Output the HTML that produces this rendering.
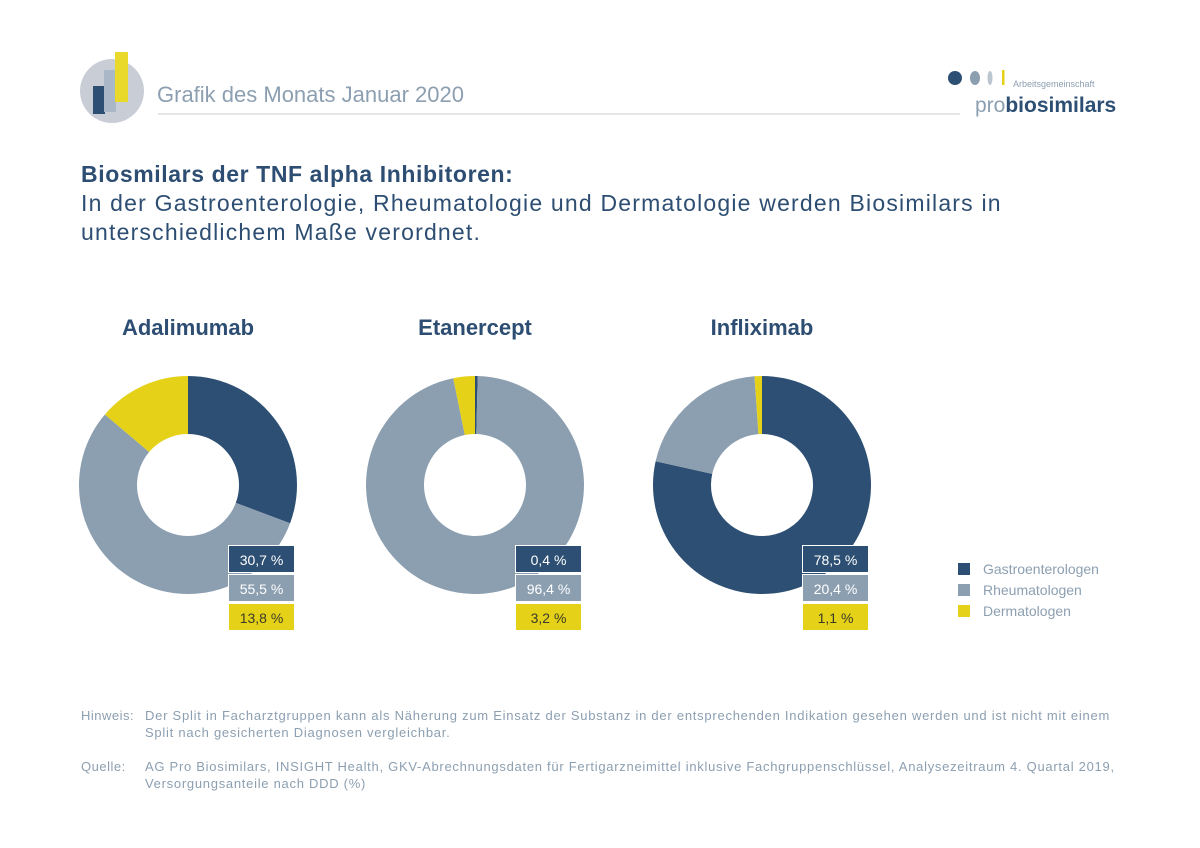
<!DOCTYPE html>
<html><head><meta charset="utf-8">
<style>
body{margin:0;width:1200px;height:848px;background:#fff;font-family:"Liberation Sans",sans-serif;position:relative;overflow:hidden}
.a{position:absolute;white-space:nowrap}
</style></head><body>
<svg class="a" style="left:0;top:0" width="1200" height="848">
 <g>
  <circle cx="112" cy="91" r="32" fill="#c9ced6"/>
  <rect x="93" y="86" width="12" height="28" fill="#2c4f73"/>
  <rect x="104" y="70" width="12" height="42" fill="#aab7c6"/>
  <rect x="115" y="52" width="13" height="50" fill="#e8d92a"/>
 </g>
 <line x1="158" y1="114" x2="960" y2="114" stroke="#c8ccd2" stroke-width="1"/>
 <g>
  <circle cx="955" cy="78" r="7" fill="#2c4f73"/>
  <ellipse cx="975" cy="78" rx="5" ry="7" fill="#8c9fb1"/>
  <ellipse cx="990" cy="78" rx="2.5" ry="7" fill="#bcc6d1"/>
  <rect x="1002" y="70" width="2.5" height="15" fill="#e5d218"/>
 </g>
 <g id="donuts"></g>
</svg>
<div class="a" style="left:157px;top:82px;font-size:22px;color:#8c9fb1">Grafik des Monats Januar 2020</div>
<div class="a" style="left:1013px;top:79px;font-size:9px;color:#8c9fb1">Arbeitsgemeinschaft</div>
<div class="a" style="left:975px;top:94px;font-size:21px;color:#8c9fb1">pro<b style="color:#2c4f73">biosimilars</b></div>
<div class="a" style="left:81px;top:160px;font-size:23px;line-height:29px;color:#2d4e72;letter-spacing:1.2px"><b style="letter-spacing:0.6px">Biosmilars der TNF alpha Inhibitoren:</b><br>In der Gastroenterologie, Rheumatologie und Dermatologie werden Biosimilars in<br>unterschiedlichem Maße verordnet.</div>
<div id="labels"></div>
<div class="a" style="left:81px;top:707px;font-size:13px;line-height:17px;color:#8c9fb1;letter-spacing:0.5px">Hinweis:</div>
<div class="a" style="left:145px;top:707px;font-size:13px;line-height:17px;color:#8c9fb1;letter-spacing:0.75px">Der Split in Facharztgruppen kann als Näherung zum Einsatz der Substanz in der entsprechenden Indikation gesehen werden und ist nicht mit einem<br>Split nach gesicherten Diagnosen vergleichbar.</div>
<div class="a" style="left:81px;top:758px;font-size:13px;line-height:17px;color:#8c9fb1;letter-spacing:0.5px">Quelle:</div>
<div class="a" style="left:145px;top:758px;font-size:13px;line-height:17px;color:#8c9fb1;letter-spacing:0.72px">AG Pro Biosimilars, INSIGHT Health, GKV-Abrechnungsdaten für Fertigarzneimittel inklusive Fachgruppenschlüssel, Analysezeitraum 4. Quartal 2019,<br>Versorgungsanteile nach DDD (%)</div>
<script>
const drugs=["Adalimumab","Etanercept","Infliximab"];
const groups=["Gastroenterologen","Rheumatologen","Dermatologen"];
const gastro=[30.7,0.4,78.5];
const rheuma=[55.5,96.4,20.4];
const derma=[13.8,3.2,1.1];
const colors=["#2c4f73","#8c9fb1","#e5d218"];
const txtColors=["#fff","#fff","#3a3a2a"];
const NS="http://www.w3.org/2000/svg";
const g=document.getElementById("donuts"),lab=document.getElementById("labels");
const cx0=188,dx=287,cy=485,R=109,r=51;
function pt(a,rad,cx){return [cx+rad*Math.sin(a),cy-rad*Math.cos(a)];}
drugs.forEach((d,i)=>{
 const cx=cx0+i*dx;const vals=[gastro[i],rheuma[i],derma[i]];
 const tot=vals.reduce((s,v)=>s+v,0);let a0=0;
 vals.forEach((v,k)=>{
  const a1=a0+v/tot*2*Math.PI;const big=(a1-a0)>Math.PI?1:0;
  const [x1,y1]=pt(a0,R,cx),[x2,y2]=pt(a1,R,cx),[x3,y3]=pt(a1,r,cx),[x4,y4]=pt(a0,r,cx);
  const p=document.createElementNS(NS,"path");
  p.setAttribute("d",`M${x1},${y1}A${R},${R} 0 ${big} 1 ${x2},${y2}L${x3},${y3}A${r},${r} 0 ${big} 0 ${x4},${y4}Z`);
  p.setAttribute("fill",colors[k]);
  
  
  g.appendChild(p);a0=a1;
 });
 const t=document.createElement("div");t.className="a";
 t.style.cssText=`left:${cx-70}px;top:315px;width:140px;text-align:center;font-size:22px;font-weight:bold;color:#2d4e72`;
 t.textContent=d;
 
 
 lab.appendChild(t);
 vals.forEach((v,k)=>{
  const b=document.createElement("div");b.className="a";
  b.style.cssText=`left:${cx+40}px;top:${545+k*29}px;width:67px;height:28px;line-height:28px;text-align:center;font-size:14px;background:${colors[k]};color:${txtColors[k]};border:1px solid #fff;box-sizing:border-box`;
  b.textContent=v.toFixed(1).replace(".",",")+" %";
  
  
  lab.appendChild(b);
 });
});
groups.forEach((n,k)=>{
 const s=document.createElement("div");s.className="a";
 s.style.cssText=`left:958px;top:${563+k*21}px;width:12px;height:12px;background:${colors[k]}`;
 
 
 lab.appendChild(s);
 const t=document.createElement("div");t.className="a";
 t.style.cssText=`left:983px;top:${561+k*21}px;font-size:14px;color:#8c9fb1`;
 t.textContent=n;
 
 
 lab.appendChild(t);
});
</script>
</body></html>
